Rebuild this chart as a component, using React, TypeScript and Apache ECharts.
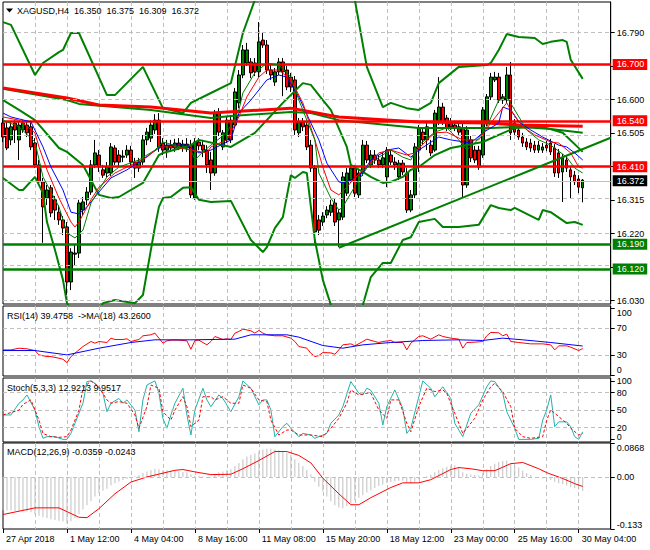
import React, { useEffect, useRef } from "react";
import * as echarts from "echarts";

const FONT = "Liberation Sans, Arial, sans-serif";

// ---------- categories / ticks ----------
const SLOT_COUNT = 153; // 146 bars + right shift
const categories = Array.from({ length: SLOT_COUNT }, (_, i) => String(i));
const tickLabels = [
  "27 Apr 2018", "1 May 12:00", "4 May 04:00", "8 May 16:00", "11 May 08:00",
  "15 May 20:00", "18 May 12:00", "23 May 00:00", "25 May 16:00", "30 May 04:00",
];

// ---------- price panel ----------
const PRICE_MIN = 16.0206;
const PRICE_MAX = 16.877;
const priceGrid = [16.03, 16.125, 16.22, 16.315, 16.41, 16.505, 16.6, 16.695, 16.79];
const priceLabels = [16.03, 16.22, 16.315, 16.505, 16.6, 16.79];
const resistanceLevels = [16.7, 16.54, 16.41];
const supportLevels = [16.19, 16.12];
const bidPrice = 16.372;
const trendStart: [string, number] = ["84", 16.18];
const trendEnd: [string, number] = ["152", 16.492];

// [open, close, low, high]
const candles = [
  [16.534,16.494,16.480,16.548],[16.520,16.463,16.457,16.537],[16.486,16.523,16.471,16.537],[16.534,16.514,16.477,16.542],
  [16.486,16.528,16.429,16.537],[16.514,16.534,16.506,16.542],[16.528,16.506,16.494,16.537],[16.523,16.466,16.457,16.534],
  [16.477,16.415,16.406,16.491],[16.415,16.367,16.358,16.429],[16.367,16.296,16.194,16.378],[16.321,16.344,16.301,16.358],
  [16.350,16.279,16.267,16.358],[16.316,16.287,16.259,16.327],[16.281,16.259,16.245,16.301],[16.259,16.236,16.216,16.270],
  [16.239,16.083,16.046,16.253],[16.083,16.168,16.060,16.179],[16.165,16.162,16.131,16.188],[16.165,16.307,16.151,16.316],
  [16.287,16.310,16.273,16.324],[16.316,16.338,16.301,16.352],[16.338,16.415,16.330,16.429],[16.415,16.449,16.406,16.486],
  [16.443,16.409,16.395,16.457],[16.401,16.386,16.378,16.415],[16.392,16.409,16.378,16.423],[16.392,16.466,16.384,16.477],
  [16.463,16.423,16.415,16.471],[16.443,16.423,16.412,16.457],[16.437,16.440,16.423,16.457],[16.443,16.457,16.435,16.471],
  [16.457,16.423,16.412,16.469],[16.423,16.406,16.378,16.435],[16.406,16.423,16.395,16.435],[16.423,16.486,16.415,16.500],
  [16.486,16.508,16.471,16.520],[16.491,16.528,16.480,16.542],[16.514,16.542,16.503,16.559],[16.542,16.463,16.452,16.562],
  [16.477,16.457,16.443,16.491],[16.457,16.471,16.435,16.486],[16.471,16.463,16.452,16.486],[16.463,16.477,16.452,16.489],
  [16.477,16.466,16.457,16.491],[16.466,16.474,16.452,16.486],[16.474,16.463,16.452,16.491],[16.471,16.330,16.321,16.486],
  [16.321,16.480,16.316,16.491],[16.480,16.469,16.457,16.491],[16.471,16.457,16.437,16.486],[16.457,16.415,16.392,16.471],
  [16.429,16.392,16.344,16.452],[16.392,16.562,16.384,16.571],[16.565,16.508,16.497,16.576],[16.466,16.506,16.457,16.514],
  [16.486,16.542,16.477,16.551],[16.542,16.486,16.477,16.551],[16.528,16.622,16.520,16.633],[16.591,16.670,16.576,16.684],
  [16.670,16.741,16.661,16.755],[16.704,16.741,16.696,16.761],[16.707,16.676,16.661,16.718],[16.704,16.679,16.667,16.718],
  [16.679,16.764,16.664,16.820],[16.769,16.755,16.747,16.792],[16.755,16.684,16.673,16.769],[16.684,16.670,16.656,16.698],
  [16.650,16.679,16.639,16.690],[16.679,16.707,16.670,16.718],[16.707,16.679,16.610,16.718],[16.684,16.636,16.627,16.696],
  [16.664,16.636,16.622,16.676],[16.656,16.514,16.500,16.667],[16.506,16.537,16.494,16.548],[16.537,16.523,16.511,16.548],
  [16.528,16.466,16.457,16.540],[16.471,16.406,16.395,16.486],[16.406,16.225,16.194,16.415],[16.259,16.230,16.216,16.273],
  [16.253,16.270,16.242,16.281],[16.273,16.287,16.264,16.298],[16.281,16.301,16.270,16.316],[16.307,16.253,16.242,16.321],
  [16.259,16.279,16.182,16.287],[16.267,16.381,16.259,16.395],[16.335,16.392,16.327,16.406],[16.372,16.406,16.364,16.420],
  [16.406,16.335,16.324,16.415],[16.330,16.392,16.321,16.401],[16.392,16.471,16.384,16.486],[16.471,16.429,16.420,16.483],
  [16.415,16.443,16.406,16.457],[16.443,16.429,16.418,16.457],[16.429,16.415,16.406,16.443],[16.415,16.435,16.406,16.449],
  [16.381,16.457,16.352,16.466],[16.443,16.423,16.415,16.457],[16.423,16.415,16.401,16.437],[16.381,16.420,16.372,16.429],
  [16.420,16.395,16.386,16.429],[16.392,16.287,16.279,16.406],[16.287,16.330,16.281,16.344],[16.330,16.466,16.321,16.477],
  [16.457,16.520,16.395,16.528],[16.508,16.486,16.471,16.520],[16.486,16.523,16.457,16.534],[16.471,16.449,16.440,16.486],
  [16.457,16.562,16.452,16.571],[16.537,16.579,16.528,16.664],[16.579,16.537,16.528,16.591],[16.548,16.520,16.511,16.557],
  [16.537,16.523,16.514,16.548],[16.528,16.520,16.511,16.540],[16.523,16.508,16.500,16.531],[16.520,16.358,16.324,16.531],
  [16.358,16.514,16.350,16.525],[16.486,16.435,16.423,16.497],[16.457,16.429,16.420,16.469],[16.457,16.409,16.401,16.469],
  [16.443,16.571,16.435,16.579],[16.534,16.608,16.525,16.616],[16.608,16.664,16.599,16.676],[16.656,16.664,16.650,16.679],
  [16.664,16.599,16.591,16.676],[16.608,16.599,16.588,16.616],[16.599,16.670,16.591,16.693],[16.670,16.506,16.486,16.707],
  [16.534,16.508,16.500,16.545],[16.514,16.494,16.486,16.525],[16.494,16.477,16.466,16.506],[16.480,16.466,16.457,16.491],
  [16.477,16.463,16.452,16.489],[16.471,16.457,16.449,16.483],[16.457,16.471,16.449,16.483],[16.457,16.466,16.449,16.477],
  [16.471,16.463,16.454,16.483],[16.477,16.452,16.443,16.489],[16.463,16.392,16.381,16.474],[16.449,16.392,16.378,16.460],
  [16.395,16.435,16.310,16.446],[16.429,16.406,16.395,16.440],[16.401,16.381,16.321,16.412],[16.386,16.367,16.358,16.398],
  [16.375,16.352,16.335,16.386],[16.350,16.372,16.309,16.375],
];

// Bollinger bands (thick green) [barIndex, price]
const bbUpper = [[0,16.820],[2,16.812],[8,16.670],[10,16.704],[14,16.735],[15,16.741],[17,16.789],[19,16.789],[26,16.613],[28,16.613],[35,16.693],[40,16.576],[45,16.562],[47,16.591],[52,16.619],[57,16.647],[60,16.789],[63,16.883],[65,16.94],[70,17.02],[78,17.02],[84,16.97],[88,16.883],[91,16.693],[95,16.579],[97,16.591],[101,16.576],[104,16.571],[107,16.591],[109,16.647],[114,16.693],[121,16.698],[122,16.704],[124,16.741],[126,16.786],[129,16.778],[133,16.775],[135,16.758],[137,16.764],[140,16.769],[141,16.764],[142,16.713],[145,16.659]];
const bbMiddle = [[0,16.599],[4,16.571],[8,16.542],[14,16.463],[16,16.452],[20,16.415],[24,16.330],[27,16.321],[29,16.324],[35,16.364],[39,16.443],[40,16.449],[47,16.471],[49,16.486],[57,16.466],[63,16.506],[70,16.591],[75,16.647],[77,16.642],[80,16.599],[82,16.571],[86,16.466],[87,16.415],[90,16.395],[92,16.381],[95,16.364],[97,16.367],[100,16.381],[102,16.401],[104,16.409],[108,16.443],[112,16.463],[120,16.480],[124,16.500],[128,16.520],[135,16.523],[140,16.506],[145,16.452]];
const bbLower = [[0,16.378],[4,16.344],[5,16.344],[8,16.381],[10,16.335],[11,16.253],[13,16.174],[15,16.089],[16,16.023],[21,15.95],[25,16.023],[28,16.032],[33,16.023],[35,16.046],[38,16.239],[39,16.296],[40,16.321],[42,16.324],[45,16.350],[47,16.352],[49,16.316],[52,16.310],[57,16.313],[62,16.202],[65,16.168],[66,16.182],[68,16.236],[70,16.267],[72,16.386],[73,16.378],[75,16.395],[76,16.392],[78,16.202],[80,16.089],[82,16.018],[86,15.92],[90,16.018],[92,16.097],[95,16.137],[97,16.137],[100,16.202],[102,16.210],[104,16.253],[108,16.262],[110,16.239],[114,16.239],[119,16.245],[122,16.301],[124,16.293],[127,16.287],[128,16.293],[134,16.259],[135,16.287],[137,16.281],[141,16.250],[143,16.253],[145,16.245]];

// long moving averages (thick)
const maLongRed = [[0,16.633],[16,16.605],[24,16.585],[37,16.579],[52,16.562],[72,16.576],[84,16.551],[104,16.537],[121,16.534],[129,16.528],[145,16.525]];
const maLongGreen = [[0,16.631],[16,16.599],[19,16.588],[37,16.571],[52,16.548],[57,16.554],[72,16.565],[77,16.562],[84,16.542],[104,16.520],[122,16.520],[129,16.523],[137,16.517],[145,16.506]];

// fast moving averages (thin)
const maBlue = [[0,16.562],[2,16.551],[7,16.537],[10,16.466],[12,16.409],[15,16.344],[17,16.281],[19,16.276],[21,16.296],[24,16.338],[27,16.378],[31,16.401],[34,16.423],[39,16.463],[41,16.471],[46,16.471],[49,16.449],[52,16.457],[57,16.486],[59,16.562],[62,16.599],[66,16.656],[69,16.670],[71,16.664],[74,16.608],[77,16.534],[79,16.486],[81,16.420],[84,16.367],[85,16.364],[87,16.372],[90,16.392],[92,16.429],[96,16.457],[99,16.463],[102,16.437],[104,16.457],[109,16.494],[112,16.486],[117,16.477],[120,16.506],[124,16.534],[125,16.579],[127,16.571],[129,16.537],[132,16.514],[135,16.494],[139,16.471],[141,16.466],[143,16.449],[145,16.429]];
const maRed = [[0,16.551],[4,16.542],[8,16.506],[9,16.466],[11,16.401],[14,16.321],[17,16.253],[18,16.239],[19,16.253],[22,16.316],[24,16.352],[28,16.392],[31,16.409],[36,16.437],[39,16.466],[43,16.466],[47,16.457],[51,16.449],[52,16.466],[56,16.486],[59,16.551],[61,16.608],[64,16.664],[66,16.684],[69,16.684],[72,16.656],[75,16.591],[78,16.486],[80,16.409],[82,16.344],[84,16.330],[86,16.352],[88,16.378],[91,16.409],[94,16.449],[97,16.457],[101,16.443],[103,16.449],[104,16.463],[108,16.506],[111,16.508],[115,16.486],[119,16.486],[122,16.534],[126,16.591],[127,16.571],[130,16.523],[133,16.500],[137,16.480],[139,16.477],[142,16.449],[144,16.409],[145,16.406]];
const maGreen = [[0,16.542],[4,16.523],[8,16.480],[10,16.381],[14,16.296],[16,16.222],[18,16.208],[20,16.230],[22,16.307],[24,16.344],[26,16.381],[29,16.409],[34,16.429],[38,16.457],[40,16.480],[47,16.457],[48,16.429],[50,16.452],[52,16.471],[56,16.506],[59,16.571],[60,16.619],[63,16.676],[66,16.704],[69,16.698],[72,16.664],[74,16.599],[76,16.542],[78,16.486],[79,16.392],[82,16.321],[84,16.287],[85,16.296],[87,16.335],[89,16.372],[91,16.406],[94,16.437],[97,16.457],[100,16.437],[102,16.429],[104,16.471],[108,16.508],[111,16.520],[114,16.486],[116,16.457],[118,16.477],[121,16.523],[124,16.599],[126,16.608],[128,16.571],[131,16.514],[134,16.486],[137,16.471],[141,16.437],[143,16.406],[145,16.392]];

// ---------- RSI panel ----------
const rsiLine = [[0,37.5],[2,37.5],[4,40],[6,39],[8,36.5],[9,30],[11,27.5],[12,27.5],[14,25],[15,23.5],[16,18.5],[17,27.5],[18,32.5],[20,42.5],[22,50],[23,47.5],[24,50],[26,48.5],[27,55],[28,53],[30,53],[31,54],[32,50],[34,53],[35,58.5],[37,60],[38,62.5],[39,55],[40,47.5],[41,51],[42,52],[44,52],[46,51],[47,38.5],[48,51.5],[49,52],[51,45],[52,50],[53,57.5],[55,53],[56,54],[57,53],[58,62.5],[59,65],[60,68.5],[62,66],[63,62.5],[64,66.5],[65,62.5],[66,60],[68,58.5],[70,58.5],[72,55],[73,50],[74,42.5],[76,40],[77,32.5],[78,27.5],[79,29],[80,33.5],[82,33],[83,31],[84,37.5],[85,45],[87,46.5],[88,43.5],[90,50],[91,53.5],[93,50],[94,48.5],[95,50],[97,51.5],[98,48.5],[100,48.5],[101,37.5],[102,47.5],[104,57.5],[105,58.5],[107,53.5],[109,60],[110,57.5],[112,55],[114,53.5],[115,40],[116,48.5],[118,49],[120,50],[121,58.5],[122,63.5],[124,63],[125,58.5],[126,61],[127,50],[129,48.5],[132,46.5],[135,46.5],[137,45],[138,37.5],[139,43.5],[141,43.5],[142,41.5],[144,36.5],[145,39.4758]];
const rsiMa = [[0,36.5],[8,36.5],[16,30],[18,32.5],[24,40],[32,48.5],[38,52.5],[47,52.5],[58,53.5],[62,60],[71,60],[74,56.5],[80,44],[85,40],[90,45],[97,48.5],[105,51.5],[114,52.5],[120,51.5],[125,55],[130,52.5],[137,48.5],[145,43.26]];
const rsiLevels = [30, 70];
const rsiTopLabel = [100];
const rsiBottomLabel = "0";

// ---------- Stochastic panel ----------
const stochMain = [[0,41.8],[2,41.8],[4,61.8],[5,67.5],[6,76],[8,50],[9,21.7],[10,1.8],[11,4.6],[13,4.6],[15,0],[16,0],[17,10.3],[18,27.5],[20,61.8],[21,99],[22,100],[23,96],[25,79],[26,47.4],[27,61.8],[29,70],[30,61.8],[31,67.5],[33,50.3],[34,13],[35,67.5],[36,93],[38,100],[39,79],[40,36],[41,19],[42,41.8],[43,61.8],[45,87.5],[46,41.8],[47,7.5],[48,50.3],[50,87.5],[51,67.5],[52,56],[54,76],[55,70],[57,47.4],[59,73],[60,100],[62,87.5],[64,59],[65,67.5],[66,67.5],[67,50.3],[68,4.6],[70,21.7],[71,27.5],[72,19],[74,4.6],[75,10.3],[77,7.5],[78,1.8],[80,7.5],[81,10.3],[82,27.5],[84,41.8],[85,56],[87,99],[89,79],[90,76],[91,87.5],[92,84],[94,61.8],[95,24.6],[96,56],[98,84.6],[100,53],[101,10.3],[102,19],[104,73],[105,100],[107,87.5],[108,73],[110,90],[112,70],[113,27.5],[115,4.6],[116,24.6],[117,44.6],[119,59],[121,90],[122,100],[123,99],[125,79],[126,47.4],[128,19],[129,0],[132,0],[134,1.8],[135,33],[136,50.3],[137,76],[138,21.7],[139,30],[141,30],[142,21.7],[143,4.6],[144,0],[145,12.9213]];
const stochSignal = [[0,41.8],[4,50],[5,60],[7,67.5],[9,33],[10,10],[12,4.6],[14,3.5],[16,4.6],[17,16],[19,50],[20,87.5],[22,100],[24,90],[26,67.5],[27,61.8],[29,64.6],[31,61.8],[33,41.8],[34,19],[36,56],[37,93],[39,87.5],[40,47.4],[42,33],[43,50],[45,73],[46,56],[47,21.7],[49,33],[50,73],[52,73],[53,67.5],[55,73],[57,61.8],[59,61.8],[60,93],[62,87.5],[64,67.5],[66,64.6],[67,33],[69,7.5],[71,16],[72,16],[74,7.5],[77,7.5],[80,4.6],[82,19],[84,36],[86,61.8],[87,84.6],[89,76],[91,79],[92,79],[94,50.3],[96,36],[97,67.5],[99,67.5],[101,27.5],[102,13],[104,56],[106,87.5],[108,81.7],[110,84.6],[111,79],[113,44.6],[115,10.3],[116,19],[118,36],[120,67.5],[122,90],[123,96],[125,81.7],[127,56],[128,19],[130,4.6],[132,1.8],[135,4.6],[136,33],[137,50.3],[139,39],[141,27.5],[142,19],[144,7.5],[145,9.9517]];
const stochLevels = [20, 50, 80];

// ---------- MACD panel ----------
const macdMain = [
  -0.085,-0.086,-0.086,-0.087,-0.087,-0.088,-0.088,-0.09,-0.095,-0.099,
  -0.103,-0.105,-0.108,-0.11,-0.112,-0.114,-0.119,-0.113,-0.105,-0.095,
  -0.083,-0.072,-0.062,-0.05,-0.041,-0.035,-0.03,-0.022,-0.016,-0.012,
  -0.008,-0.005,-0.002,0.002,0.005,0.01,0.014,0.018,0.021,0.02,
  0.018,0.017,0.016,0.015,0.014,0.013,0.012,0.006,0.004,0.003,
  0.002,0.0,-0.002,0.008,0.012,0.014,0.018,0.02,0.028,0.036,
  0.045,0.052,0.056,0.06,0.065,0.07,0.072,0.072,0.07,0.068,
  0.066,0.062,0.056,0.045,0.036,0.028,0.018,0.006,-0.012,-0.025,
  -0.037,-0.05,-0.062,-0.072,-0.078,-0.08,-0.075,-0.068,-0.06,-0.053,
  -0.047,-0.04,-0.034,-0.028,-0.023,-0.019,-0.016,-0.013,-0.011,-0.01,
  -0.01,-0.014,-0.017,-0.012,-0.006,-0.001,0.002,0.006,0.012,0.018,
  0.022,0.026,0.029,0.03,0.026,0.012,0.008,0.006,0.005,0.004,
  0.01,0.02,0.028,0.034,0.038,0.041,0.042,0.036,0.03,0.024,
  0.016,0.01,0.005,0.0,-0.002,-0.004,-0.006,-0.008,-0.012,-0.016,
  -0.018,-0.022,-0.026,-0.029,-0.033,-0.0359,
];
const macdSignal = [[0,-0.096],[8,-0.079],[14,-0.079],[19,-0.103],[21,-0.104],[24,-0.081],[28,-0.043],[32,-0.013],[36,0.0],[43,0.017],[45,0.019],[48,0.013],[52,0.006],[57,0.007],[60,0.021],[64,0.042],[68,0.065],[71,0.065],[74,0.055],[77,0.036],[80,-0.003],[84,-0.043],[87,-0.071],[89,-0.071],[92,-0.053],[97,-0.027],[100,-0.015],[104,-0.015],[107,-0.007],[112,0.019],[114,0.024],[117,0.021],[120,0.016],[123,0.016],[127,0.034],[130,0.037],[134,0.021],[136,0.011],[140,-0.004],[143,-0.017],[145,-0.0243]];
const MACD_MIN = -0.133;
const MACD_MAX = 0.0868;

// ---------- titles ----------
const last = candles[candles.length - 1];
const mainTitle = `XAGUSD,H4  ${last[0].toFixed(3)}  ${last[3].toFixed(3)}  ${last[2].toFixed(3)}  ${last[1].toFixed(3)}`;
const rsiTitle = "RSI(14) 39.4758  ->MA(18) 43.2600";
const stochTitle = "Stoch(5,3,3) 12.9213 9.9517";
const macdTitle = "MACD(12,26,9) -0.0359 -0.0243";

function buildOption(): any {
  const GL = 3;
  const GR = 39.3;
  const panels = [
    { top: 2, height: 302 },
    { top: 306, height: 70 },
    { top: 378, height: 64 },
    { top: 443, height: 86 },
  ];
  const grid = panels.map((p) => ({
    left: GL, right: GR, top: p.top, height: p.height,
    show: true, borderColor: "#000", borderWidth: 1,
  }));

  const xAxis = panels.map((_, g) => ({
    type: "category",
    gridIndex: g,
    data: categories,
    boundaryGap: false,
    axisLine: { show: false, onZero: false },
    axisTick: g === 3
      ? { show: true, interval: (i: number) => i % 16 === 0, length: 4, lineStyle: { color: "#000" } }
      : { show: false },
    axisLabel: g === 3
      ? {
          show: true,
          interval: (i: number) => i % 16 === 0 && i / 16 < tickLabels.length,
          formatter: (_v: string, i: number) => tickLabels[i / 16] ?? "",
          align: "left",
          color: "#000",
          fontSize: 9,
          fontFamily: FONT,
          margin: 5,
          padding: [0, 0, 0, 3],
        }
      : { show: false },
    splitLine: {
      show: true,
      interval: (i: number) => i > 0 && i % 8 === 0,
      lineStyle: { color: "#c0c0c0", type: [4, 3], width: 1 },
    },
  }));

  const lbl = { color: "#000", fontSize: 9, fontFamily: FONT, margin: 6, showMinLabel: true, showMaxLabel: true };
  const yBase = (gridIndex: number, min: number, max: number) => ({
    type: "value",
    gridIndex,
    position: "right",
    min,
    max,
    splitLine: { show: false },
    axisLine: { show: true, onZero: false, lineStyle: { color: "#000" } },
  });
  // label-only axes for the edge labels that the terminal pulls inside the panel
  const yExtra = (gridIndex: number, min: number, max: number, vals: number[], va: string, fmt: (v: number) => string) => ({
    ...yBase(gridIndex, min, max),
    axisLine: { show: false, onZero: false },
    axisTick: { show: false },
    axisLabel: { ...lbl, customValues: vals, verticalAlign: va, formatter: fmt },
  });

  const yAxis = [
    {
      ...yBase(0, PRICE_MIN, PRICE_MAX),
      axisTick: { show: true, length: 4, customValues: priceGrid, lineStyle: { color: "#000" } },
      axisLabel: { ...lbl, customValues: priceLabels, formatter: (v: number) => v.toFixed(3) },
    },
    {
      ...yBase(1, -1.5, 103),
      axisTick: { show: true, length: 4, customValues: [0, 30, 70, 100], lineStyle: { color: "#000" } },
      axisLabel: { ...lbl, customValues: rsiLevels, formatter: (v: number) => String(v) },
    },
    yExtra(1, -1.5, 103, rsiTopLabel, "top", (v) => String(v)),
    {
      ...yBase(2, -4.5, 105),
      axisTick: { show: true, length: 4, customValues: [0, 20, 50, 80, 100], lineStyle: { color: "#000" } },
      axisLabel: { ...lbl, customValues: [...stochLevels, 100], formatter: (v: number) => String(v) },
    },
    yExtra(2, -7.7, 101.8, [0], "middle", (v) => String(v)),
    {
      ...yBase(3, MACD_MIN, MACD_MAX),
      axisTick: { show: true, length: 4, customValues: [MACD_MIN, 0, MACD_MAX], lineStyle: { color: "#000" } },
      axisLabel: { ...lbl, customValues: [0], formatter: () => "0.00" },
    },
    yExtra(3, MACD_MIN, MACD_MAX, [MACD_MAX], "top", (v) => String(v)),
    yExtra(3, MACD_MIN, MACD_MAX, [MACD_MIN], "bottom", (v) => String(v)),
  ];
  const RSI_AXIS = 1;
  const STOCH_AXIS = 3;
  const MACD_AXIS = 5;

  const gridLineStyle = { color: "#c0c0c0", type: [4, 3], width: 1 };
  const gridLines = (xi: number, yi: number, vals: number[]) => ({
    type: "line",
    xAxisIndex: xi,
    yAxisIndex: yi,
    data: [],
    silent: true,
    z: 1,
    markLine: {
      silent: true,
      symbol: ["none", "none"],
      label: { show: false },
      lineStyle: gridLineStyle,
      data: vals.map((v) => ({ yAxis: v })),
    },
  });

  const line = (name: string, data: number[][], color: string, width: number, xi: number, yi: number, z: number, extra: any = {}) => ({
    name,
    type: "line",
    xAxisIndex: xi,
    yAxisIndex: yi,
    data,
    symbol: "none",
    showSymbol: false,
    silent: true,
    z,
    lineStyle: { color, width, ...(extra.lineStyle || {}) },
  });

  const levelLabel = (text: string, bg: string) => ({
    show: true,
    position: "end",
    formatter: text,
    color: "#fff",
    backgroundColor: bg,
    padding: [1, 3, 1, 4],
    fontSize: 9,
    fontFamily: FONT,
    distance: 2,
  });

  const series: any[] = [
    gridLines(0, 0, priceGrid),
    gridLines(1, RSI_AXIS, rsiLevels),
    gridLines(2, STOCH_AXIS, stochLevels),
    gridLines(3, MACD_AXIS, [0]),
    {
      type: "line",
      xAxisIndex: 0,
      yAxisIndex: 0,
      data: [],
      silent: true,
      z: 2,
      markLine: {
        silent: true,
        symbol: ["none", "none"],
        data: [
          {
            yAxis: bidPrice,
            lineStyle: { color: "#c0c0c0", width: 1, type: "solid" },
            label: levelLabel(bidPrice.toFixed(3), "#000"),
          },
        ],
      },
    },
    {
      name: "XAGUSD",
      type: "candlestick",
      xAxisIndex: 0,
      yAxisIndex: 0,
      data: candles,
      barWidth: 3,
      silent: true,
      z: 3,
      itemStyle: {
        color: "#008000",
        color0: "#ff0000",
        borderColor: "#000",
        borderColor0: "#000",
        borderWidth: 1,
      },
    },
    line("BB upper", bbUpper, "#008000", 2, 0, 0, 4),
    line("BB middle", bbMiddle, "#008000", 2, 0, 0, 4),
    line("BB lower", bbLower, "#008000", 2, 0, 0, 4),
    line("MA long green", maLongGreen, "#008000", 2, 0, 0, 4),
    line("MA long red", maLongRed, "#ff0000", 3, 0, 0, 4),
    line("MA blue", maBlue, "#0000ff", 1, 0, 0, 5),
    line("MA red", maRed, "#ff0000", 1, 0, 0, 5),
    line("MA green", maGreen, "#008000", 1, 0, 0, 5),
    {
      type: "line",
      xAxisIndex: 0,
      yAxisIndex: 0,
      data: [],
      silent: true,
      z: 6,
      markLine: {
        silent: true,
        symbol: ["none", "none"],
        data: [
          ...resistanceLevels.map((v) => ({
            yAxis: v,
            lineStyle: { color: "#ff0000", width: 2.5, type: "solid" },
            label: levelLabel(v.toFixed(3), "#ff0000"),
          })),
          ...supportLevels.map((v) => ({
            yAxis: v,
            lineStyle: { color: "#008000", width: 2.5, type: "solid" },
            label: levelLabel(v.toFixed(3), "#008000"),
          })),
          [
            { coord: trendStart, lineStyle: { color: "#008000", width: 2, type: "solid" }, label: { show: false } },
            { coord: trendEnd, lineStyle: { color: "#008000", width: 2, type: "solid" }, label: { show: false } },
          ],
        ],
      },
    },
    line("RSI", rsiLine, "#ff0000", 1, 1, RSI_AXIS, 4),
    line("RSI MA", rsiMa, "#0000ff", 1, 1, RSI_AXIS, 4),
    line("Stoch main", stochMain, "#20b2aa", 1, 2, STOCH_AXIS, 4),
    line("Stoch signal", stochSignal, "#ff0000", 1, 2, STOCH_AXIS, 5, { lineStyle: { type: [3, 2] } }),
    {
      name: "MACD",
      type: "bar",
      xAxisIndex: 3,
      yAxisIndex: MACD_AXIS,
      data: macdMain,
      barWidth: 1,
      silent: true,
      z: 3,
      itemStyle: { color: "#c0c0c0" },
    },
    line("MACD signal", macdSignal, "#ff0000", 1, 3, MACD_AXIS, 4),
  ];

  const titleText = (text: string, x: number, y: number) => ({
    type: "text",
    x,
    y,
    silent: true,
    style: { text, fill: "#000", fontSize: 9, fontFamily: FONT, verticalAlign: "middle", align: "left" },
    z: 100,
  });

  return {
    animation: false,
    backgroundColor: "#fff",
    grid,
    xAxis,
    yAxis,
    series,
    graphic: [
      { type: "polygon", silent: true, shape: { points: [[6, 8.5], [13, 8.5], [9.5, 12.5]] }, style: { fill: "#000" }, z: 100 },
      titleText(mainTitle, 17, 11),
      titleText(rsiTitle, 7, 315.7),
      titleText(stochTitle, 7, 387.7),
      titleText(macdTitle, 7, 452.3),
      // RSI panel bottom scale label (sits just inside the panel's lower edge)
      titleText(rsiBottomLabel, 616.7, 369.5),
    ],
  };
}

export default function App() {
  const ref = useRef<HTMLDivElement>(null);
  useEffect(() => {
    if (!ref.current) return;
    const chart = echarts.init(ref.current, null, { renderer: "svg" });
    chart.setOption(buildOption());
    return () => chart.dispose();
  }, []);
  return (
    <div
      ref={ref}
      style={{ position: "fixed", left: 0, top: 0, width: 650, height: 550, background: "#fff" }}
    />
  );
}
